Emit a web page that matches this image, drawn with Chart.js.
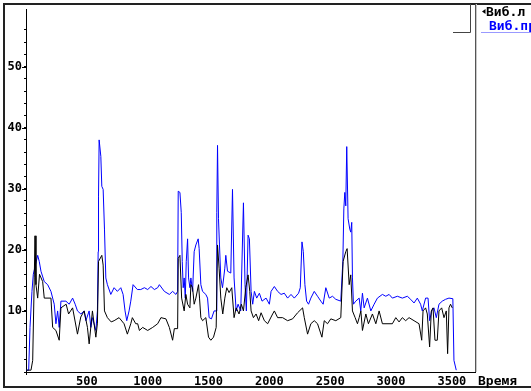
<!DOCTYPE html>
<html>
<head>
<meta charset="utf-8">
<script src="https://cdn.jsdelivr.net/npm/chart.js@4"></script>
<style>
    html, body { margin: 0; background: #fff; }
    canvas { display: block; }
</style>
</head>
<body>
<canvas id="vibChart" width="531" height="391"></canvas>
<script>
// Виб.л (left) samples: time and value
const timeL = [0, 41, 55, 68, 74, 82, 96, 111, 137, 150, 205, 219, 246, 273, 287, 330, 350, 383, 423, 450,
    478, 505, 519, 546, 574, 587, 596, 623, 634, 645, 669, 700, 724, 765, 806, 833, 861, 874, 902, 918,
    932, 959, 1000, 1041, 1082, 1109, 1150, 1178, 1205, 1219, 1246, 1251, 1265, 1279, 1300, 1314, 1328, 1347, 1355, 1369,
    1382, 1396, 1418, 1426, 1437, 1451, 1478, 1500, 1519, 1541, 1563, 1574, 1587, 1601, 1617, 1634, 1650, 1669, 1691, 1710,
    1727, 1751, 1770, 1787, 1806, 1825, 1839, 1850, 1869, 1891, 1912, 1932, 1959, 1986, 2027, 2041, 2068, 2109, 2150, 2191,
    2232, 2273, 2287, 2314, 2341, 2369, 2396, 2432, 2451, 2478, 2505, 2546, 2587, 2606, 2628, 2639, 2656, 2669, 2683, 2705,
    2724, 2738, 2752, 2765, 2793, 2814, 2847, 2875, 2902, 2929, 3011, 3039, 3066, 3093, 3120, 3148, 3189, 3230, 3252, 3263,
    3284, 3298, 3317, 3331, 3345, 3361, 3380, 3394, 3416, 3435, 3454, 3465, 3476, 3489, 3503];
const vibL = [0.3, 0.3, 1.9, 15.4, 22.3, 14.3, 12.1, 16.0, 14.8, 12.1, 12.1, 7.3, 6.8, 5.2, 10.5, 11.1, 9.5, 10.5, 6.2, 9.0,
    10.0, 7.3, 4.6, 10.0, 5.7, 8.0, 18.1, 19.1, 17.5, 10.0, 8.9, 8.2, 8.4, 8.9, 7.9, 6.2, 7.9, 8.9, 7.9, 7.9,
    6.8, 7.3, 6.8, 7.3, 7.9, 8.9, 8.7, 7.3, 5.2, 7.1, 7.1, 18.6, 19.1, 12.1, 10.0, 12.7, 11.1, 10.5, 14.3, 13.8,
    11.1, 12.1, 14.3, 12.1, 8.9, 8.4, 8.9, 5.7, 5.2, 5.7, 7.3, 20.8, 17.0, 12.1, 9.5, 12.1, 13.8, 13.0, 13.8, 8.9,
    10.5, 9.5, 11.1, 10.0, 13.8, 15.9, 13.2, 10.0, 8.9, 9.5, 8.4, 9.7, 8.4, 7.9, 9.5, 10.0, 8.9, 8.9, 8.4, 8.7,
    9.7, 10.5, 8.9, 6.2, 7.9, 8.4, 7.9, 5.7, 8.4, 7.9, 8.7, 8.4, 8.9, 18.1, 19.7, 20.2, 14.3, 15.9, 10.0, 8.9,
    7.9, 8.9, 10.0, 6.8, 9.5, 7.9, 9.5, 7.9, 10.0, 7.9, 7.9, 8.9, 8.2, 8.9, 8.4, 8.9, 8.4, 7.9, 5.2, 10.0,
    10.5, 9.5, 4.1, 10.0, 10.5, 5.2, 5.2, 10.0, 10.5, 8.9, 10.0, 3.0, 10.5, 11.1, 10.5];

// Виб.пр (right) samples: time and value
const timeP = [0, 22, 33, 49, 60, 96, 109, 123, 150, 178, 205, 219, 232, 246, 260, 273, 287, 328, 355, 383,
    404, 423, 451, 478, 492, 519, 533, 546, 574, 587, 593, 596, 601, 615, 623, 634, 645, 656, 669, 697,
    724, 751, 779, 798, 814, 828, 847, 861, 880, 915, 943, 973, 1000, 1027, 1055, 1082, 1096, 1137, 1178, 1205,
    1232, 1246, 1251, 1265, 1276, 1284, 1292, 1300, 1309, 1317, 1328, 1336, 1347, 1355, 1369, 1382, 1396, 1415, 1423, 1437,
    1451, 1478, 1492, 1505, 1524, 1546, 1563, 1568, 1574, 1582, 1590, 1601, 1615, 1634, 1642, 1656, 1683, 1697, 1710, 1727,
    1743, 1765, 1787, 1800, 1811, 1825, 1836, 1850, 1863, 1877, 1896, 1918, 1940, 1973, 2000, 2014, 2041, 2068, 2096, 2123,
    2150, 2178, 2205, 2240, 2254, 2268, 2279, 2292, 2306, 2322, 2341, 2369, 2396, 2423, 2442, 2464, 2492, 2519, 2546, 2587,
    2604, 2612, 2620, 2628, 2636, 2647, 2661, 2669, 2677, 2683, 2691, 2710, 2738, 2751, 2765, 2779, 2806, 2834, 2861, 2888,
    2929, 2957, 2984, 3011, 3052, 3093, 3134, 3161, 3189, 3216, 3243, 3257, 3284, 3304, 3317, 3334, 3353, 3372, 3394, 3421,
    3448, 3476, 3508, 3517, 3536];
const vibP = [0.3, 0.3, 7.3, 13.2, 16.0, 19.1, 18.1, 16.5, 14.8, 14.3, 13.2, 12.1, 11.1, 7.9, 10.0, 7.3, 11.6, 11.6, 11.1, 12.1,
    11.1, 10.0, 9.5, 10.0, 8.4, 10.0, 7.3, 8.9, 6.8, 10.0, 19.7, 28.8, 38.0, 35.3, 30.4, 29.9, 23.4, 15.4, 14.3, 12.7,
    13.8, 13.2, 13.8, 12.7, 10.0, 8.4, 10.0, 11.6, 14.3, 13.5, 13.5, 13.8, 13.5, 14.0, 13.5, 13.8, 14.3, 13.2, 12.7, 13.2,
    12.7, 13.2, 29.6, 29.4, 26.1, 18.1, 13.8, 15.4, 12.1, 18.1, 21.8, 15.4, 13.8, 15.4, 13.2, 19.7, 20.8, 21.8, 20.2, 14.3,
    13.2, 12.7, 12.1, 8.9, 8.7, 10.0, 10.0, 26.1, 37.1, 25.1, 20.8, 15.4, 13.8, 17.0, 19.1, 16.5, 16.2, 29.9, 15.4, 10.0,
    11.1, 10.0, 27.7, 14.3, 10.0, 22.4, 21.8, 13.2, 11.1, 13.2, 12.1, 12.9, 11.6, 12.1, 11.1, 13.2, 14.0, 13.2, 12.7, 12.9,
    12.1, 12.7, 12.1, 12.9, 13.8, 21.3, 19.7, 14.3, 11.6, 11.1, 12.1, 13.2, 12.4, 11.6, 11.1, 13.8, 12.1, 12.4, 11.9, 11.6,
    18.1, 26.7, 29.4, 27.2, 36.9, 25.1, 23.4, 22.9, 24.5, 15.4, 11.1, 11.6, 12.1, 10.0, 12.9, 10.5, 12.1, 10.0, 11.1, 12.1,
    12.7, 12.4, 12.7, 12.1, 12.4, 12.1, 12.4, 11.9, 11.3, 12.1, 11.1, 10.0, 12.1, 12.1, 8.4, 10.0, 10.5, 8.9, 11.1, 11.6,
    11.9, 12.1, 12.0, 1.9, 0.3];

const seriesNames = ['Виб.л', 'Виб.пр'];
const seriesColors = ['#000000', '#0000ff'];
const xAxisName = 'Время';
const xLabels = [500, 1000, 1500, 2000, 2500, 3000, 3500];
const yMajorStep = 10;

const labelFont = 'bold 12px "DejaVu Sans Mono", monospace';
const tickFont = { family: '"DejaVu Sans Mono", monospace', size: 12, weight: 'bold' };

const toPoints = (times, values) => times.map((t, i) => ({ x: t, y: values[i] }));

// frame, x labels, legend text and axis name drawn round the plot
const framePlugin = {
    id: 'frame',
    beforeDraw: (chart) => {
        const ctx = chart.ctx;
        ctx.save();
        ctx.fillStyle = '#fff';
        ctx.fillRect(0, 0, chart.width, chart.height);
        ctx.restore();
    },
    afterDraw: (chart) => {
        const ctx = chart.ctx;
        const area = chart.chartArea;
        const xScale = chart.scales.x;
        const yScale = chart.scales.y;

        ctx.save();

        // longer marks at labelled y values
        ctx.strokeStyle = '#000';
        ctx.lineWidth = 1;
        ctx.beginPath();
        yScale.ticks.forEach(t => {
            if (t.value > 0 && t.value % yMajorStep === 0) {
                const py = Math.round(yScale.getPixelForValue(t.value)) + 0.5;
                ctx.moveTo(area.left - 4, py);
                ctx.lineTo(area.left, py);
            }
        });
        ctx.stroke();

        // x labels
        ctx.font = labelFont;
        ctx.fillStyle = '#000';
        ctx.textAlign = 'center';
        ctx.textBaseline = 'alphabetic';
        xLabels.forEach(v => {
            ctx.fillText(String(v), xScale.getPixelForValue(v), 385);
        });

        // outer frame
        ctx.strokeStyle = '#222';
        ctx.lineWidth = 2;
        ctx.beginPath();
        ctx.moveTo(chart.width, 4);
        ctx.lineTo(4, 4);
        ctx.lineTo(4, 387);
        ctx.lineTo(chart.width, 387);
        ctx.stroke();

        // right edge of the plot
        ctx.lineWidth = 1;
        ctx.strokeStyle = '#555';
        ctx.beginPath();
        ctx.moveTo(area.right + 0.5, 4);
        ctx.lineTo(area.right + 0.5, area.bottom);
        ctx.stroke();
        ctx.strokeStyle = '#c8c8c8';
        ctx.beginPath();
        ctx.moveTo(area.right + 1.5, 4);
        ctx.lineTo(area.right + 1.5, area.bottom);
        ctx.stroke();

        // small corner box
        ctx.strokeStyle = '#444';
        ctx.beginPath();
        ctx.moveTo(area.right - 4.5, 4);
        ctx.lineTo(area.right - 4.5, 32.5);
        ctx.lineTo(area.right - 22, 32.5);
        ctx.stroke();

        // legend
        ctx.font = 'bold 13px "DejaVu Sans Mono", monospace';
        ctx.textAlign = 'left';
        ctx.fillStyle = seriesColors[0];
        ctx.beginPath();
        ctx.moveTo(482, 11.5);
        ctx.lineTo(485.5, 9);
        ctx.lineTo(485.5, 14);
        ctx.closePath();
        ctx.fill();
        ctx.fillText(seriesNames[0], 486, 16);
        ctx.fillStyle = seriesColors[1];
        ctx.fillText(seriesNames[1], 489, 30);
        ctx.strokeStyle = '#9999ff';
        ctx.beginPath();
        ctx.moveTo(481, 32.5);
        ctx.lineTo(chart.width, 32.5);
        ctx.stroke();

        // axis name
        ctx.fillStyle = '#000';
        ctx.fillText(xAxisName, 478, 385);

        ctx.restore();
    }
};

new Chart(document.getElementById('vibChart').getContext('2d'), {
    type: 'line',
    data: {
        datasets: [{
            label: seriesNames[0],
            data: toPoints(timeL, vibL),
            borderColor: seriesColors[0],
            borderWidth: 1
        }, {
            label: seriesNames[1],
            data: toPoints(timeP, vibP),
            borderColor: seriesColors[1],
            borderWidth: 1
        }]
    },
    options: {
        responsive: false,
        animation: false,
        devicePixelRatio: 1,
        layout: { padding: { left: 4, right: 56, top: 5, bottom: 0 } },
        plugins: {
            legend: { display: false },
            tooltip: { enabled: false }
        },
        elements: {
            point: { radius: 0 },
            line: { tension: 0 }
        },
        scales: {
            x: {
                type: 'linear',
                min: 0,
                max: 3690,
                afterFit: (scale) => { scale.height = 19; },
                afterBuildTicks: (scale) => { scale.ticks = scale.ticks.filter(t => t.value % 100 === 0); },
                ticks: { stepSize: 100, display: false },
                grid: { drawOnChartArea: false, tickLength: 3, color: '#000' },
                border: { color: '#000', width: 1 }
            },
            y: {
                min: 0,
                max: 59.4,
                afterFit: (scale) => { scale.width = 22; },
                afterBuildTicks: (scale) => { scale.ticks = scale.ticks.filter(t => t.value % 2 === 0); },
                ticks: {
                    stepSize: 2,
                    autoSkip: false,
                    padding: 2,
                    color: '#000',
                    font: tickFont,
                    callback: (v) => (v > 0 && v % yMajorStep === 0 ? String(v) : '')
                },
                grid: { drawOnChartArea: false, tickLength: 2, color: '#000' },
                border: { color: '#000', width: 1 }
            }
        }
    },
    plugins: [framePlugin]
});
</script>
</body>
</html>
